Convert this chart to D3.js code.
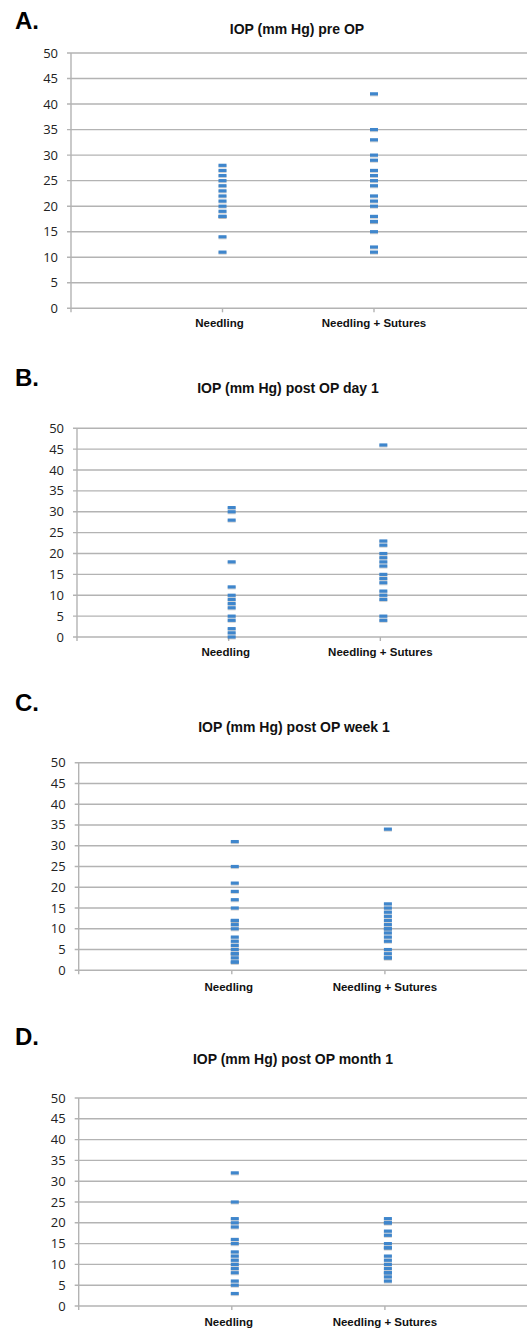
<!DOCTYPE html>
<html>
<head>
<meta charset="utf-8">
<script src="https://cdn.jsdelivr.net/npm/d3@7"></script>
<style>
    body { margin: 0; background: #fff; }
    .tick-label { font-family: "Open Sans", sans-serif; font-size: 13px; fill: #222; }
    .cat-label { font-family: "Liberation Sans", Arial, sans-serif; font-size: 11.5px; font-weight: bold; fill: #111; }
    .chart-title { font-family: "Liberation Sans", Arial, sans-serif; font-size: 14px; font-weight: bold; fill: #111; }
    .panel-letter { font-family: "Liberation Sans", Arial, sans-serif; font-size: 24px; font-weight: bold; fill: #000; }
</style>
</head>
<body>
<div id="chart"></div>
<script>
// data
const categories = ["Needling", "Needling + Sutures"];
const yTicks = [0, 5, 10, 15, 20, 25, 30, 35, 40, 45, 50];
const panelLetters = ["A.", "B.", "C.", "D."];
const titles = [
    "IOP (mm Hg) pre OP",
    "IOP (mm Hg) post OP day 1",
    "IOP (mm Hg) post OP week 1",
    "IOP (mm Hg) post OP month 1"
];

const preNeedling = [28, 27, 26, 25, 24, 23, 22, 21, 20, 19, 18, 18, 14, 11];
const preSutures = [42, 35, 33, 30, 29, 27, 26, 25, 24, 22, 21, 20, 18, 17, 17, 15, 12, 11];
const day1Needling = [31, 30, 28, 18, 12, 10, 9, 8, 7, 5, 4, 2, 1, 0];
const day1Sutures = [46, 23, 22, 20, 19, 18, 17, 15, 14, 13, 11, 10, 9, 5, 4];
const week1Needling = [31, 25, 21, 19, 17, 15, 12, 12, 11, 10, 8, 7, 6, 5, 4, 4, 3, 2, 2];
const week1Sutures = [34, 16, 15, 14, 13, 12, 11, 10, 10, 9, 8, 7, 5, 4, 3, 3];
const month1Needling = [32, 25, 21, 20, 19, 16, 15, 13, 12, 11, 10, 9, 8, 6, 5, 3];
const month1Sutures = [21, 20, 20, 18, 17, 15, 14, 14, 12, 11, 10, 9, 8, 8, 7, 6];

const seriesByPanel = [
    [preNeedling, preSutures],
    [day1Needling, day1Sutures],
    [week1Needling, week1Sutures],
    [month1Needling, month1Sutures]
];

// layout of each panel (pixel positions measured on the figure)
const layout = [
    { letterY: 29, titleX: 297, titleY: 34, axisX: 71, right: 525.5, top: 53, bottom: 308.3, catY: 327, dotShift: 0 },
    { letterY: 386, titleX: 288, titleY: 393, axisX: 77, right: 532, top: 428.3, bottom: 637, catY: 656, dotShift: 3 },
    { letterY: 711, titleX: 294, titleY: 732, axisX: 78.7, right: 538, top: 762.7, bottom: 970.3, catY: 991, dotShift: 3 },
    { letterY: 1045, titleX: 293, titleY: 1064, axisX: 78.7, right: 538, top: 1098, bottom: 1306, catY: 1326, dotShift: 3 }
];

const width = 527;
const height = 1329;
const gridColor = "#b3b3b3";
const markerW = 8;
const markerH = 3.2;

const svg = d3.select("#chart").append("svg")
    .attr("width", width)
    .attr("height", height);

layout.forEach((p, i) => {
    const g = svg.append("g").attr("class", "panel");

    const y = d3.scaleLinear()
        .domain([0, 50])
        .range([p.bottom, p.top]);

    // categories sit at 1 and 2 on a 0..3 axis
    const x = d3.scaleLinear()
        .domain([0, 3])
        .range([p.axisX, p.right]);

    g.append("text")
        .attr("class", "panel-letter")
        .attr("x", 15)
        .attr("y", p.letterY)
        .text(panelLetters[i]);

    g.append("text")
        .attr("class", "chart-title")
        .attr("x", p.titleX)
        .attr("y", p.titleY)
        .attr("text-anchor", "middle")
        .text(titles[i]);

    // gridlines
    g.selectAll(".grid")
        .data(yTicks)
        .join("line")
        .attr("class", "grid")
        .attr("x1", p.axisX - 4)
        .attr("x2", width)
        .attr("y1", d => y(d))
        .attr("y2", d => y(d))
        .attr("stroke", gridColor)
        .attr("stroke-width", 1.4);

    // y axis line
    g.append("line")
        .attr("x1", p.axisX)
        .attr("x2", p.axisX)
        .attr("y1", y(50))
        .attr("y2", y(0) + 4)
        .attr("stroke", gridColor)
        .attr("stroke-width", 1.4);

    g.selectAll(".tick-label")
        .data(yTicks)
        .join("text")
        .attr("class", "tick-label")
        .attr("x", p.axisX - 13)
        .attr("y", d => y(d) + 4.5)
        .attr("text-anchor", "end")
        .text(d => d);

    // category ticks + labels
    g.selectAll(".cat-tick")
        .data(categories)
        .join("line")
        .attr("class", "cat-tick")
        .attr("x1", (d, k) => x(k + 1))
        .attr("x2", (d, k) => x(k + 1))
        .attr("y1", y(0))
        .attr("y2", y(0) + 4)
        .attr("stroke", gridColor)
        .attr("stroke-width", 1.4);

    g.selectAll(".cat-label")
        .data(categories)
        .join("text")
        .attr("class", "cat-label")
        .attr("x", (d, k) => x(k + 1) - (k === 0 ? 3 : 0))
        .attr("y", p.catY)
        .attr("text-anchor", "middle")
        .text(d => d);

    // MARKERS
    seriesByPanel[i].forEach((values, k) => {
        const cx = x(k + 1) + p.dotShift;
        const s = g.append("g").attr("class", "series");

        s.selectAll(".shadow")
            .data(values)
            .join("rect")
            .attr("class", "shadow")
            .attr("x", cx - markerW / 2)
            .attr("y", d => y(d) - markerH / 2 + 1)
            .attr("width", markerW)
            .attr("height", markerH)
            .attr("fill", "#8a8a8a")
            .attr("opacity", 0.35);

        s.selectAll(".marker")
            .data(values)
            .join("rect")
            .attr("class", "marker")
            .attr("x", cx - markerW / 2)
            .attr("y", d => y(d) - markerH / 2)
            .attr("width", markerW)
            .attr("height", markerH)
            .attr("fill", "#3f86cc");
    });
});
</script>
</body>
</html>
